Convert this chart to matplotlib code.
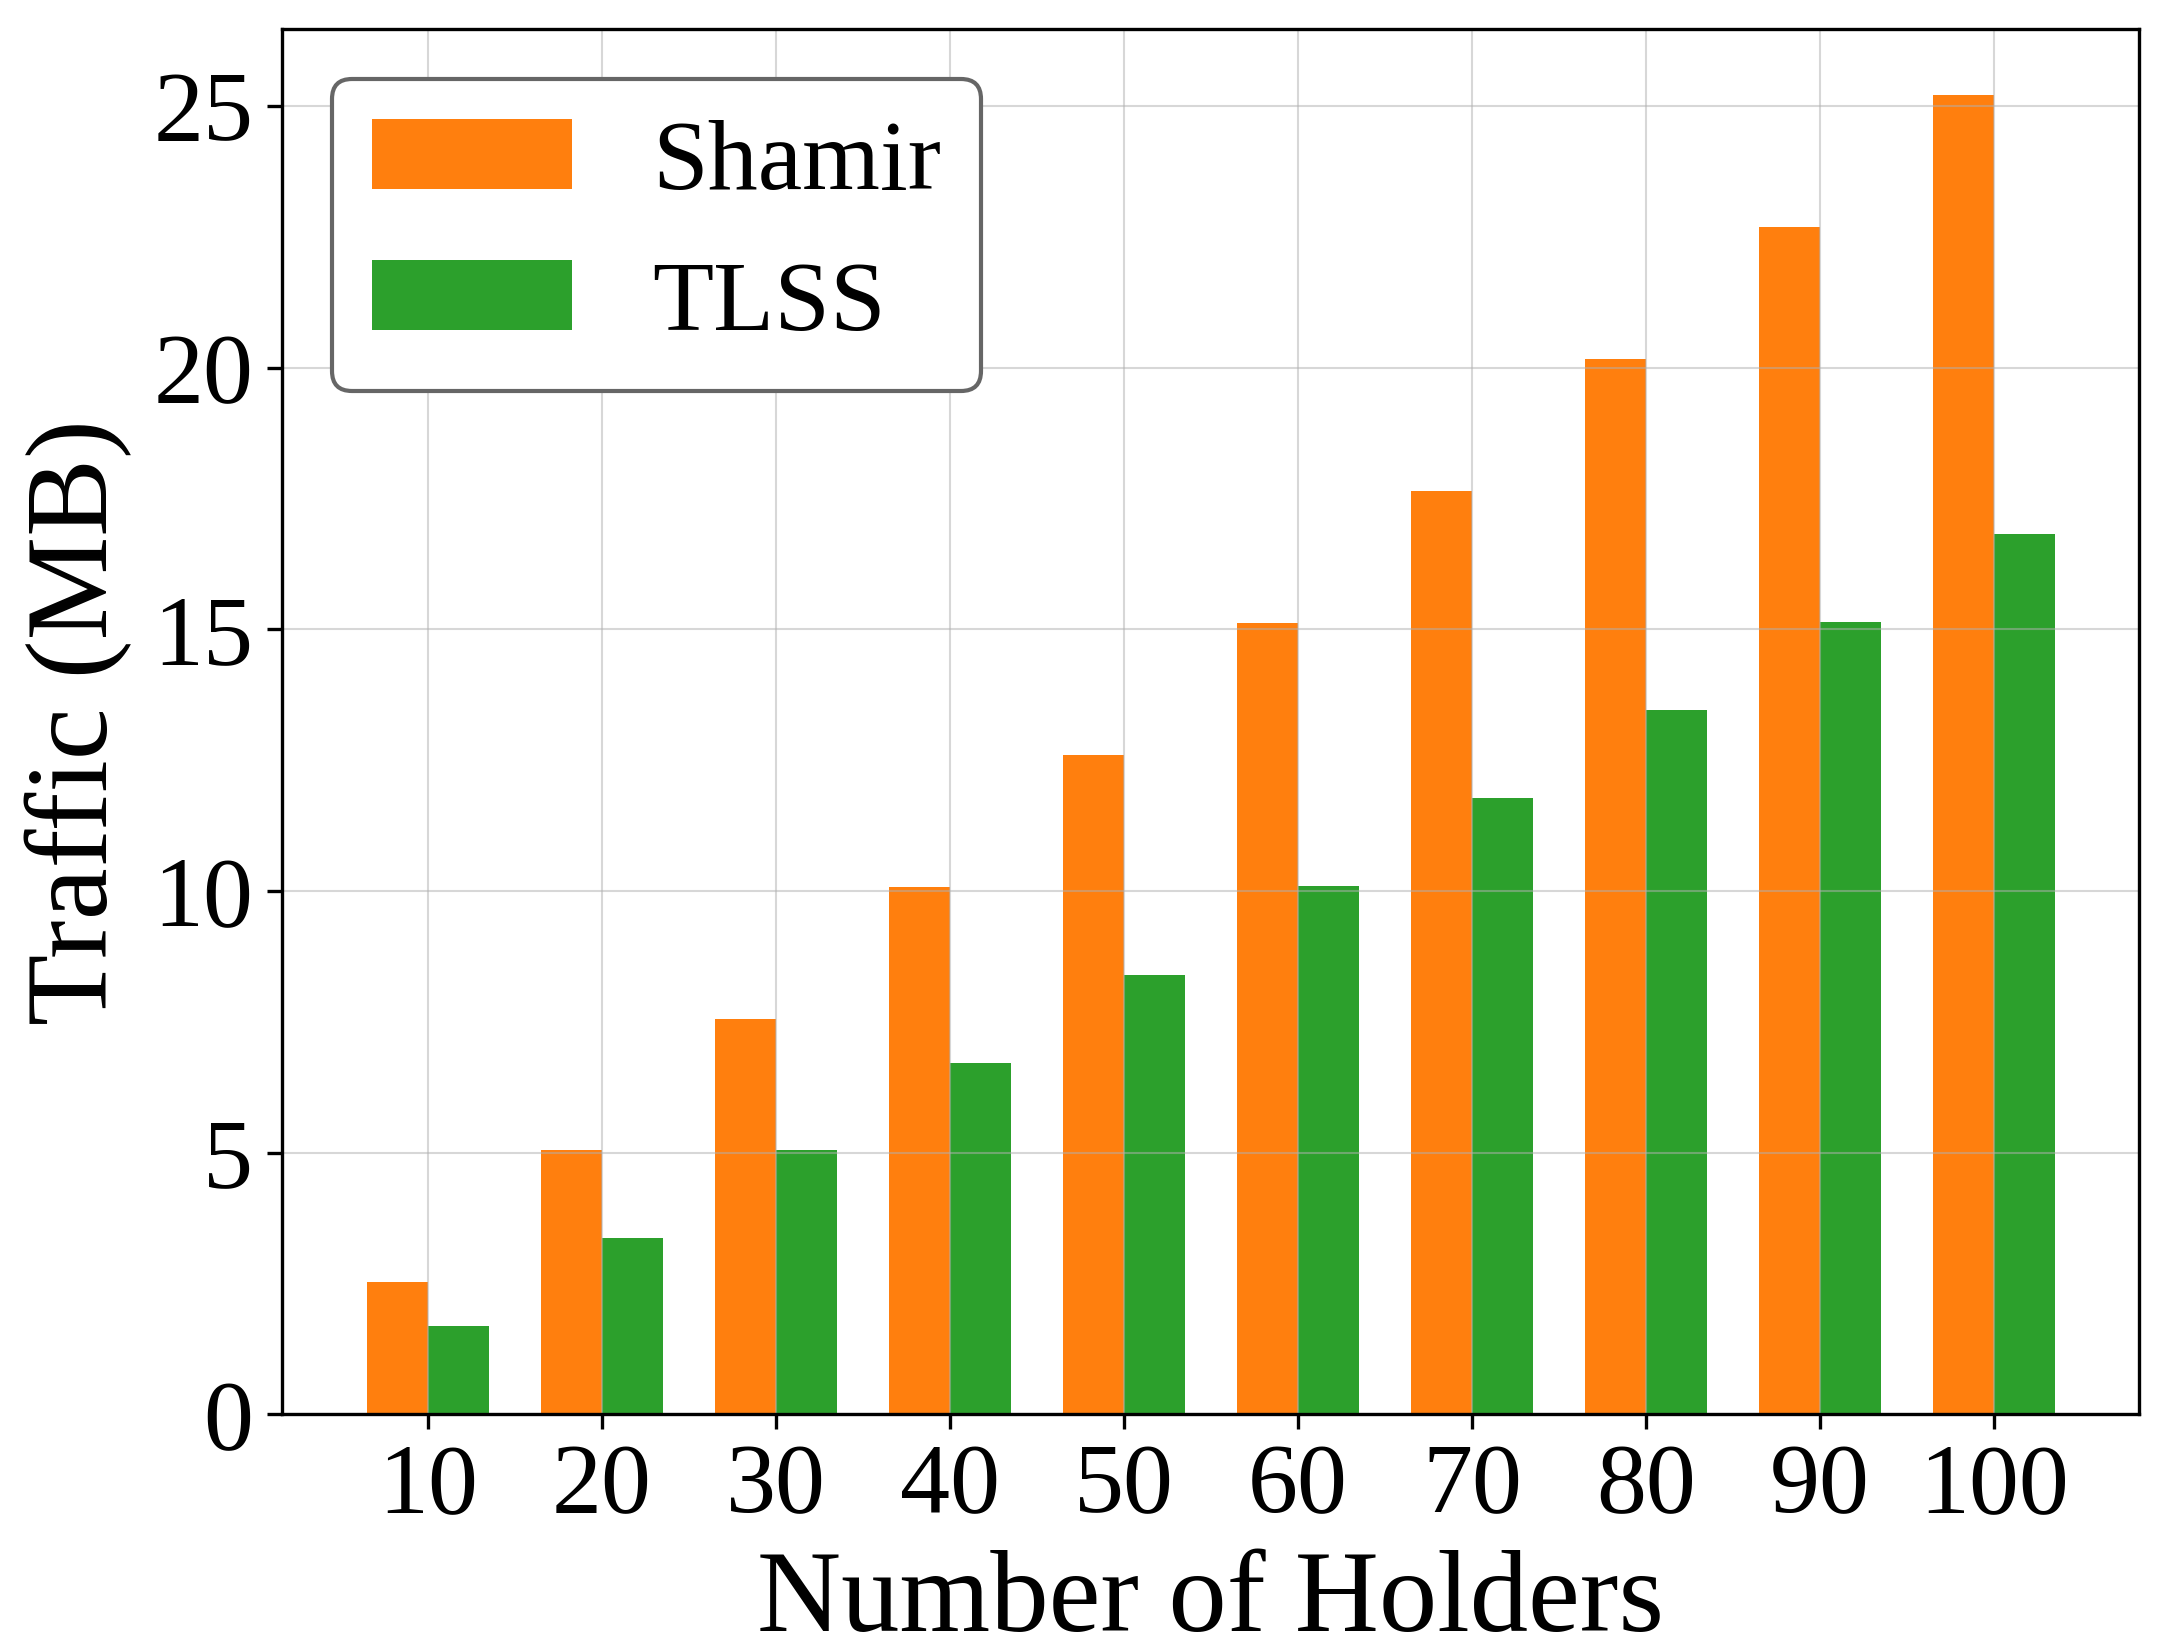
import numpy as np
import matplotlib
matplotlib.use('Agg')
import matplotlib.pyplot as plt

# data
holders = ['10', '20', '30', '40', '50', '60', '70', '80', '90', '100']
shamir = [2.52, 5.04, 7.56, 10.08, 12.60, 15.12, 17.64, 20.16, 22.68, 25.20]
tlss = [1.68, 3.36, 5.04, 6.72, 8.40, 10.10, 11.77, 13.46, 15.13, 16.82]

plt.rcParams.update({'font.family': 'serif',
                     'font.serif': ['Liberation Serif', 'DejaVu Serif']})

fig = plt.figure(figsize=(7.24, 5.45), dpi=300)
ax = fig.add_axes([0.130, 0.135, 0.855, 0.847])

x = np.arange(len(holders))
w = 0.35
ax.bar(x - w/2, shamir, w, color='tab:orange', label='Shamir')
ax.bar(x + w/2, tlss, w, color='tab:green', label='TLSS')

ax.set_xticks(x)
ax.set_xticklabels(holders)
ax.tick_params(labelsize=24)
ax.set_xlabel('Number of Holders', fontsize=28, labelpad=4)
ax.set_ylabel('Traffic (MB)', fontsize=28, labelpad=5)
ax.grid(True, color='#b0b0b0', linewidth=0.5, alpha=0.5)

leg = ax.legend(loc='upper left', fontsize=24, fancybox=True,
                framealpha=1.0, edgecolor='0.4')
leg.get_frame().set_linewidth(1.0)

fig.savefig('out.png', dpi=300)
